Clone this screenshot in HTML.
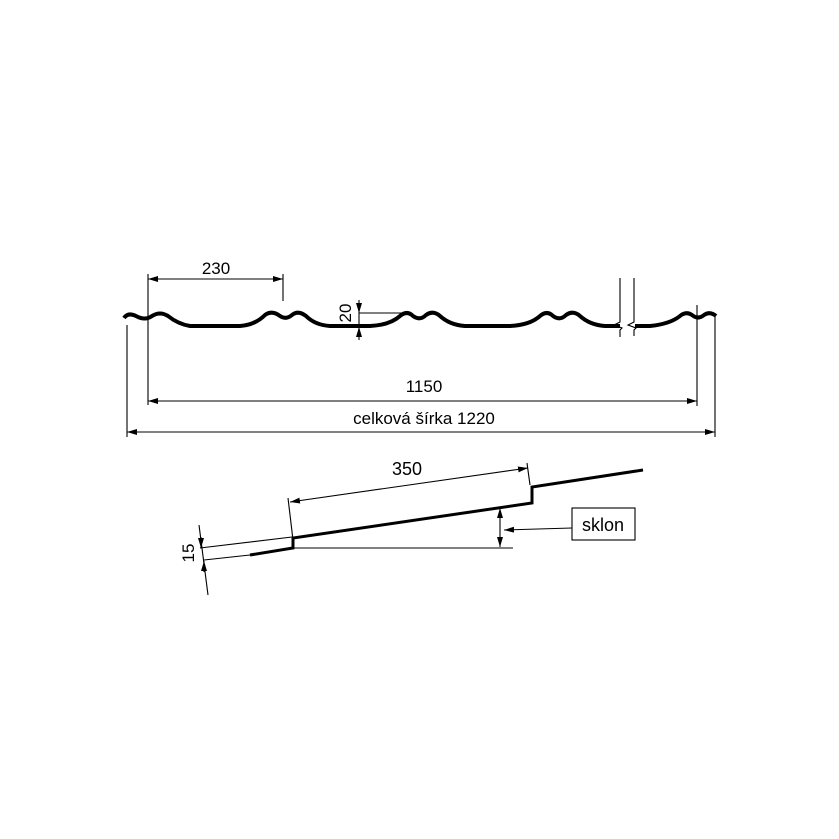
<!DOCTYPE html>
<html><head><style>body{margin:0;background:#fff}svg{display:block}</style></head><body>
<svg width="839" height="839" viewBox="0 0 839 839" xmlns="http://www.w3.org/2000/svg" font-family="Liberation Sans, sans-serif">
<defs>
<marker id="a" viewBox="0 0 10 6" refX="10" refY="3" markerWidth="10" markerHeight="6" orient="auto-start-reverse" markerUnits="userSpaceOnUse"><path d="M0,0L10,3L0,6z" fill="#000"/></marker>
</defs>
<rect width="839" height="839" fill="#fff"/>
<path d="M124,318 Q128,312 136,316 Q145,321 152,316 Q160,311 168,316 Q178,324 190,326 L240,326 Q255,325 265,315 Q272,310 280,316 Q286,320 292,315 Q298,310 306,316 Q315,325 330,326 L370,326 Q390,325 400,316 Q407,310 413,316 Q420,321 426,315 Q433,310 440,316 Q450,325 465,326 L510,326 Q530,325 540,316 Q547,310 553,316 Q560,321 566,315 Q573,310 580,316 Q590,325 605,326 L620,326 M635,326 L650,326 Q670,324 680,316 Q686,311 692,315 Q698,320 704,315 Q710,311 716,316" fill="none" stroke="#000" stroke-width="4" stroke-linejoin="round"/>
<g stroke="#000" stroke-width="1.1" fill="none">
<line x1="148" y1="274" x2="148" y2="405"/>
<line x1="283" y1="274" x2="283" y2="301"/>
<line x1="148" y1="279" x2="283" y2="279" marker-start="url(#a)" marker-end="url(#a)"/>
<line x1="148" y1="401" x2="697" y2="401" marker-start="url(#a)" marker-end="url(#a)"/>
<line x1="697" y1="305" x2="697" y2="406"/>
<line x1="127" y1="325" x2="127" y2="437"/>
<line x1="715" y1="315" x2="715" y2="437"/>
<line x1="127" y1="432" x2="715" y2="432" marker-start="url(#a)" marker-end="url(#a)"/>
<line x1="359" y1="300" x2="359" y2="313" marker-end="url(#a)"/>
<line x1="359" y1="340" x2="359" y2="327" marker-end="url(#a)"/>
<line x1="359" y1="313" x2="359" y2="327"/>
<line x1="359" y1="313" x2="402" y2="313"/>
<path d="M620,278 V322 L614,325 L622,328 L620,330 V337 M634,278 V322 L628,325 L636,328 L634,330 V336"/>
<line x1="288" y1="498" x2="293" y2="540"/>
<line x1="527" y1="463" x2="530" y2="485"/>
<line x1="290" y1="502" x2="528" y2="468" marker-start="url(#a)" marker-end="url(#a)"/>
<line x1="293" y1="548" x2="513" y2="548"/>
<line x1="500" y1="508" x2="500" y2="547" marker-start="url(#a)" marker-end="url(#a)"/>
<line x1="572" y1="528" x2="504" y2="530" marker-end="url(#a)"/>
<rect x="572" y="508" width="63" height="32"/>
<line x1="200" y1="548" x2="292" y2="537"/>
<line x1="204" y1="560" x2="250" y2="555"/>
<line x1="199" y1="525" x2="208" y2="595"/>
<line x1="201" y1="537" x2="201" y2="548" marker-end="url(#a)"/>
<line x1="204" y1="572" x2="204" y2="561" marker-end="url(#a)"/>
</g>
<path d="M250,555 L293,548 L293,538 L532,503 L532,487 L643,470" fill="none" stroke="#000" stroke-width="3"/>
<g font-size="17" fill="#000">
<text x="216" y="274" text-anchor="middle">230</text>
<text x="424" y="392" text-anchor="middle">1150</text>
<text x="424" y="424" text-anchor="middle">celková šírka 1220</text>
<text x="407" y="475" text-anchor="middle" font-size="18">350</text>
<text x="603" y="531" text-anchor="middle" font-size="18">sklon</text>
<text transform="translate(351,313) rotate(-90)" text-anchor="middle">20</text>
<text transform="translate(194,553) rotate(-90)" text-anchor="middle">15</text>
</g>
</svg>
</body></html>
